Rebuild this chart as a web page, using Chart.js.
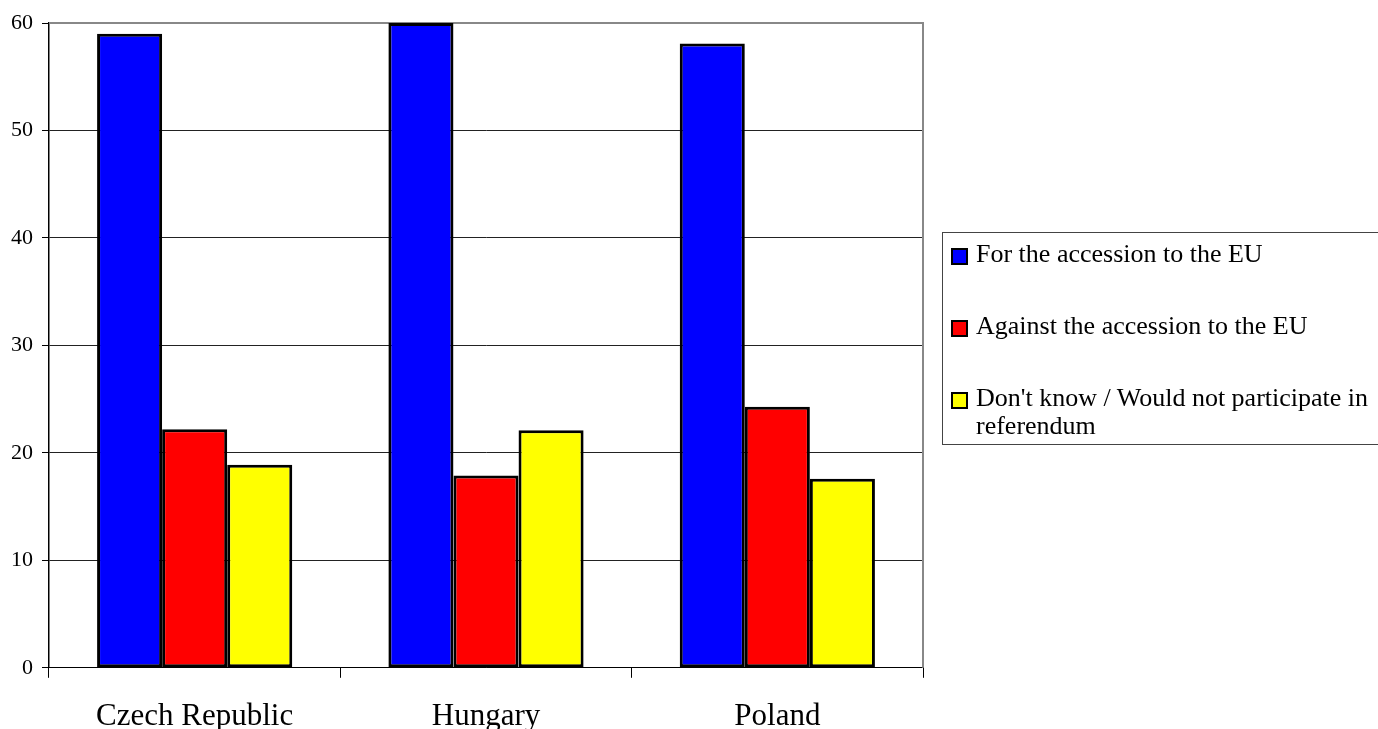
<html>
  <head>
    <script src="https://cdn.jsdelivr.net/npm/chart.js@4"></script>
    <style>
      body { margin: 0; overflow: hidden; background: #fff; }
      #wrap { position: relative; width: 1378px; height: 729px; overflow: hidden; }
      #legend {
        position: absolute; left: 942px; top: 232px; width: 470px; height: 213px;
        border: 1px solid #444; box-sizing: border-box; padding-top: 7px;
        font-family: 'Liberation Serif', 'Times New Roman', serif; font-size: 26px; line-height: 28px; color: #000;
      }
      .item { display: flex; align-items: flex-start; margin-left: 8px; margin-bottom: 44px; }
      .box { width: 13px; height: 13px; border: 2px solid #000; margin-top: 8px; margin-right: 8px; flex: none; }
      .txt { width: 410px; }
    </style>
  </head>
  <body>
    <div id="wrap">
      <canvas id="myChart" width="1378" height="755"></canvas>
      <div id="legend"></div>
    </div>

    <script>
      var categories = ['Czech Republic', 'Hungary', 'Poland']
      var seriesNames = ['For the accession to the EU', 'Against the accession to the EU', 'Don\'t know / Would not participate in referendum']
      var forValues = [59.0, 60.0, 58.1]
      var againstValues = [22.2, 17.9, 24.3]
      var dontKnowValues = [18.9, 22.1, 17.6]
      var colors = ['#0000ff', '#ff0000', '#ffff00']
      var yMin = 0, yMax = 60, yStep = 10

      Chart.defaults.color = '#000'
      Chart.defaults.font.family = "'Liberation Serif', 'Times New Roman', serif"

      // gray frame on top and right of the plot
      var frame = {
        id: 'frame',
        beforeDatasetsDraw: function (chart) {
          var a = chart.chartArea, c = chart.ctx
          c.save()
          c.strokeStyle = '#888'
          c.lineWidth = 2
          c.beginPath()
          c.moveTo(a.left, a.top)
          c.lineTo(a.right, a.top)
          c.lineTo(a.right, a.bottom)
          c.stroke()
          c.restore()
        }
      }

      var values = [forValues, againstValues, dontKnowValues]
      var ctx = document.getElementById('myChart').getContext('2d')
      var chart = new Chart(ctx, {
        type: 'bar',
        data: {
          labels: categories,
          datasets: values.map(function (v, i) {
            return {
              label: seriesNames[i],
              data: v,
              backgroundColor: colors[i],
              borderColor: '#000',
              borderWidth: 3,
              borderSkipped: false,
              categoryPercentage: 0.67,
              barPercentage: 1.0
            }
          })
        },
        options: {
          responsive: false,
          animation: false,
          layout: { padding: { left: 2, top: 23, right: 455, bottom: 0 } },
          plugins: { legend: { display: false }, tooltip: { enabled: false } },
          scales: {
            x: {
              grid: { display: true, drawOnChartArea: false, offset: true, tickLength: 10, tickColor: '#000' },
              border: { color: '#000', width: 1 },
              ticks: { font: { size: 31 }, padding: 20 }
            },
            y: {
              min: yMin,
              max: yMax,
              ticks: { stepSize: yStep, font: { size: 22 }, padding: 9 },
              grid: {
                tickLength: 7,
                tickColor: '#000',
                color: function (c) { return c.tick && c.tick.value === yMax ? 'rgba(0,0,0,0)' : '#222' }
              },
              border: { color: '#000', width: 1.5 }
            }
          }
        },
        plugins: [frame]
      })

      var legend = document.getElementById('legend')
      seriesNames.forEach(function (name, i) {
        var item = document.createElement('div')
        item.className = 'item'
        item.innerHTML = '<span class="box" style="background:' + colors[i] + '"></span><span class="txt"></span>'
        item.querySelector('.txt').textContent = name
        legend.appendChild(item)
      })
    </script>
  </body>
</html>
